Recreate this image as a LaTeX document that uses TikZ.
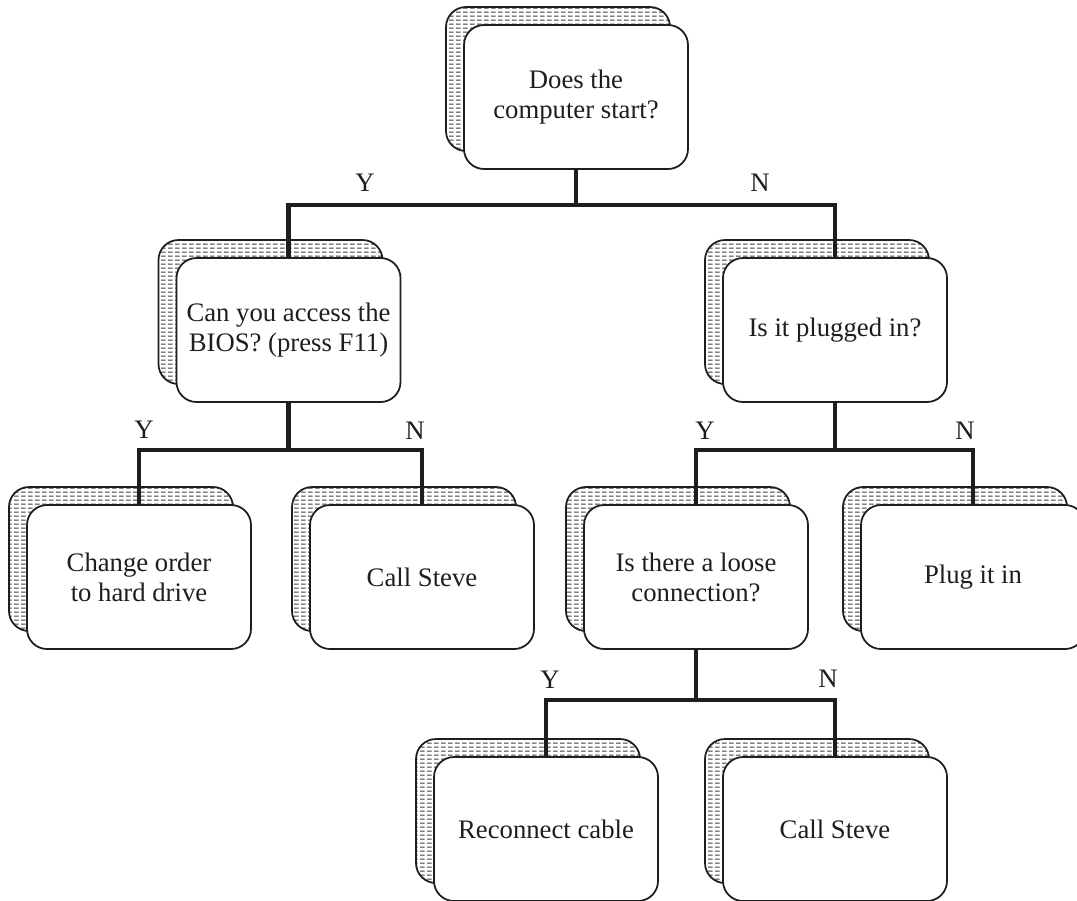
\documentclass[tikz,border=0pt]{standalone}
\usepackage{fontspec}
\setmainfont{Liberation Serif}
\usepackage{tikz}
\usetikzlibrary{shapes,arrows,positioning,calc,shadows,patterns}
\definecolor{boxline}{RGB}{30,30,30}
\definecolor{shadowdash}{RGB}{60,60,60}

% dashed horizontal lines for the shadows
\pgfdeclarepatternformonly{hdashes}{\pgfpointorigin}{\pgfqpoint{4.2pt}{2.2pt}}{\pgfqpoint{4.2pt}{2.2pt}}{
	\pgfsetlinewidth{0.55pt}
	\pgfpathmoveto{\pgfqpoint{0pt}{1.1pt}}
	\pgfpathlineto{\pgfqpoint{2.9pt}{1.1pt}}
	\pgfusepath{stroke}
}

\begin{document}
\begin{tikzpicture}[
		qbox/.style={draw=boxline, line width=1pt, fill=white, rounded corners=0.4cm,
			minimum width=4.48cm, minimum height=2.88cm, align=center,
			font=\fontsize{15.2}{17}\selectfont, text=boxline,
			general shadow={shadow xshift=-0.36cm, shadow yshift=0.36cm, draw=boxline,
				line width=1pt, pattern=hdashes, pattern color=shadowdash}},
		link/.style={line width=2.8pt, boxline},
		yn/.style={font=\fontsize{15.2}{17}\selectfont, text=boxline}]
				\useasboundingbox (0,0) rectangle (21.54,-18);
				
				% Draw the question and answer boxes
				\node[qbox] (start) at (11.52,-1.94) {Does the\\computer start?};
				\node[qbox] (bios) at (5.77,-6.60) {Can you access the\\BIOS? (press F11)};
				\node[qbox] (plugged) at (16.70,-6.60) {Is it plugged in?};
				\node[qbox] (change) at (2.78,-11.54) {Change order\\to hard drive};
				\node[qbox] (steveA) at (8.44,-11.54) {Call Steve};
				\node[qbox] (loose) at (13.92,-11.54) {Is there a loose\\connection?};
				\node[qbox] (plugin) at (19.46,-11.54) {Plug it in};
				\node[qbox] (cable) at (10.92,-16.58) {Reconnect cable};
				\node[qbox] (steveB) at (16.70,-16.58) {Call Steve};
				
				% Bar heights
				\coordinate (barA) at (11.52,-4.10);
				\coordinate (barB) at (5.77,-9.00);
				\coordinate (barC) at (16.70,-9.00);
				\coordinate (barD) at (13.92,-14.00);
				
				% Draw connections
				\draw[link] (start.south) -- (start.south |- barA);
				\draw[link] (bios.north) -- (bios.north |- barA) -- (plugged.north |- barA) -- (plugged.north);
				\draw[link] (bios.south) -- (bios.south |- barB);
				\draw[link] (change.north) -- (change.north |- barB) -- (steveA.north |- barB) -- (steveA.north);
				\draw[link] (plugged.south) -- (plugged.south |- barC);
				\draw[link] (loose.north) -- (loose.north |- barC) -- (plugin.north |- barC) -- (plugin.north);
				\draw[link] (loose.south) -- (loose.south |- barD);
				\draw[link] (cable.north) -- (cable.north |- barD) -- (steveB.north |- barD) -- (steveB.north);
				
				% Add labels
				\node[yn] (ystart) at (7.30,-3.66) {Y};
				\node[yn] (nstart) at (15.20,-3.66) {N};
				\node[yn] (ybios) at (2.88,-8.60) {Y};
				\node[yn] (nbios) at (8.30,-8.62) {N};
				\node[yn] (yplug) at (14.10,-8.62) {Y};
				\node[yn] (nplug) at (19.30,-8.62) {N};
				\node[yn] (yloose) at (11.00,-13.60) {Y};
				\node[yn] (nloose) at (16.56,-13.58) {N};
			\end{tikzpicture}
\end{document}
